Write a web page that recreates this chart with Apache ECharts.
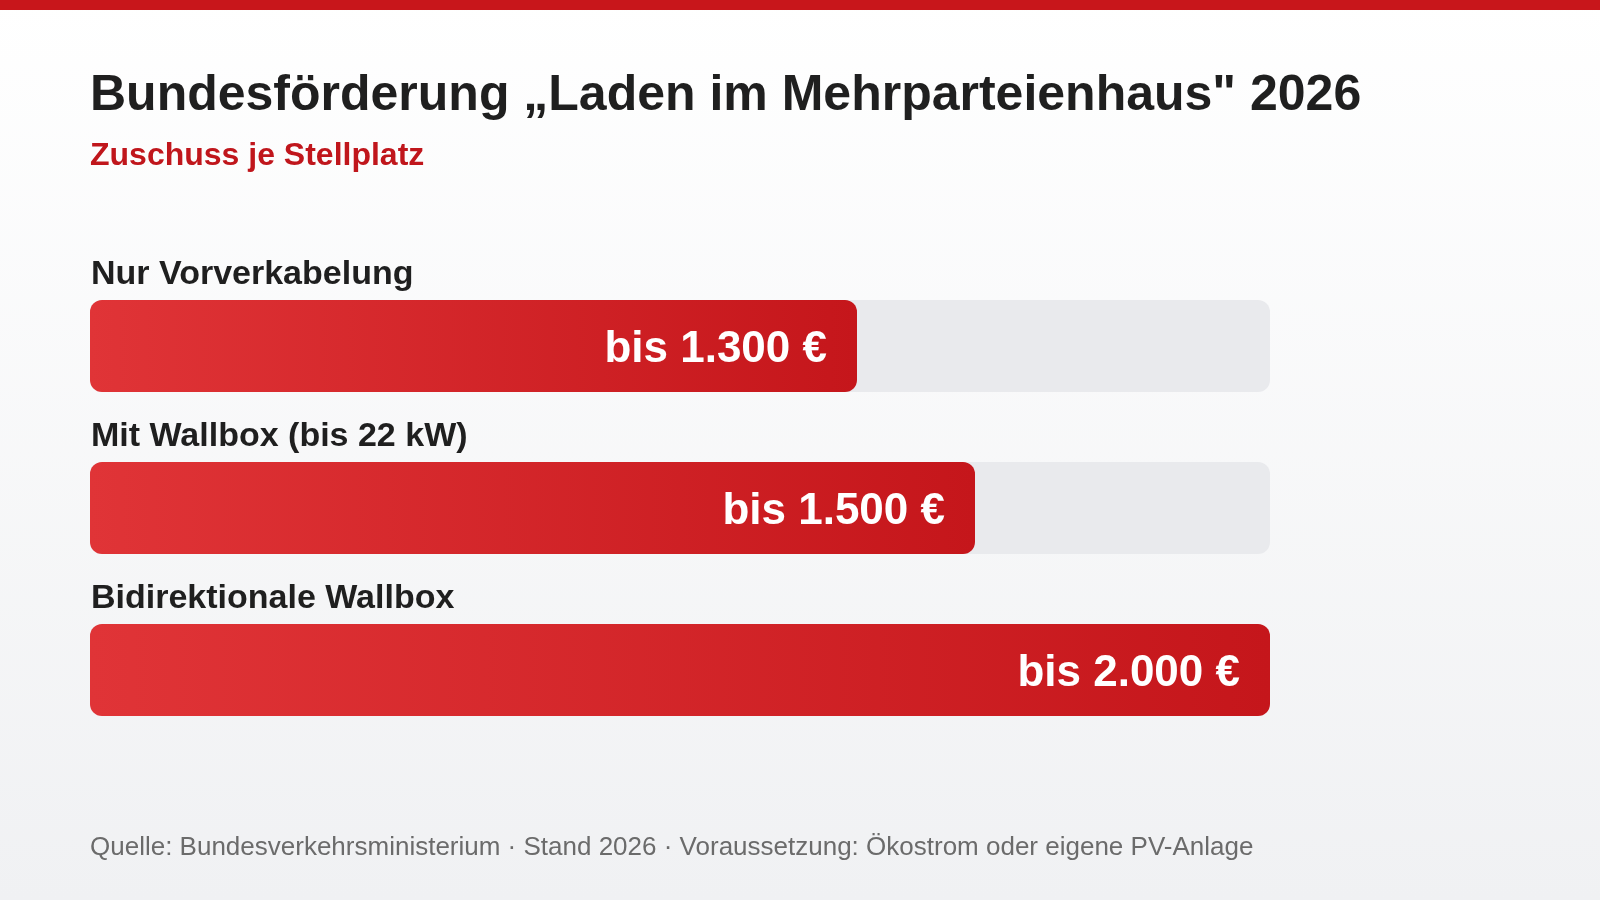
<!DOCTYPE html>
<html>
<head>
<meta charset="utf-8">
<script src="https://cdn.jsdelivr.net/npm/echarts@6/dist/echarts.min.js"></script>
<style>
html,body{margin:0;padding:0;width:1600px;height:900px;overflow:hidden;}
#chart{width:1600px;height:900px;}
</style>
</head>
<body>
<div id="chart"></div>
<script>
const titleText = 'Bundesförderung „Laden im Mehrparteienhaus" 2026';
const subtitleText = 'Zuschuss je Stellplatz';
const footerText = 'Quelle: Bundesverkehrsministerium · Stand 2026 · Voraussetzung: Ökostrom oder eigene PV-Anlage';
const categories = ['Nur Vorverkabelung', 'Mit Wallbox (bis 22 kW)', 'Bidirektionale Wallbox'];
const values = [1300, 1500, 2000];
const axisMax = 2000;

const FONT = '"Liberation Sans", Arial, Helvetica, sans-serif';
const fmt = v => 'bis ' + String(v).replace(/\B(?=(\d{3})+(?!\d))/g, '.') + ' €';

const chart = echarts.init(document.getElementById('chart'), null, {renderer: 'canvas'});
chart.setOption({
  animation: false,
  backgroundColor: {
    type: 'linear', x: 0, y: 0, x2: 0, y2: 1,
    colorStops: [{offset: 0, color: '#ffffff'}, {offset: 1, color: '#f0f1f3'}]
  },
  graphic: [{
    type: 'rect', left: 0, top: 0, shape: {width: 1600, height: 10},
    style: {fill: '#c8161b'}
  }],
  title: [{
    text: titleText, left: 90, top: 71, padding: 0,
    textStyle: {fontFamily: FONT, fontSize: 50, fontWeight: 'bold', color: '#1f1f1f', lineHeight: 50}
  }, {
    text: subtitleText, left: 90, top: 140, padding: 0,
    textStyle: {fontFamily: FONT, fontSize: 32, fontWeight: 'bold', color: '#c0161c', lineHeight: 32}
  }, {
    text: footerText, left: 90, top: 835, padding: 0,
    textStyle: {fontFamily: FONT, fontSize: 26, fontWeight: 'normal', color: '#6b6b6b', lineHeight: 26}
  }],
  grid: {left: 90, right: 330, top: 265, height: 486, containLabel: false},
  xAxis: {type: 'value', min: 0, max: axisMax, show: false},
  yAxis: {
    type: 'category', data: categories, inverse: true,
    axisLine: {show: false}, axisTick: {show: false}, splitLine: {show: false},
    axisLabel: {
      inside: true, margin: 0, align: 'left', verticalAlign: 'bottom',
      padding: [0, 0, 54, 1],
      fontFamily: FONT, fontSize: 34, fontWeight: 'bold', color: '#1f1f1f', lineHeight: 34
    }
  },
  series: [{
    type: 'bar', data: values, barWidth: 92,
    showBackground: true,
    backgroundStyle: {color: '#e9eaed', borderRadius: 12},
    itemStyle: {
      borderRadius: 12,
      color: {type: 'linear', x: 0, y: 0, x2: 1, y2: 0,
        colorStops: [{offset: 0, color: '#e03437'}, {offset: 1, color: '#c5161b'}]}
    },
    label: {
      show: true, position: 'insideRight', distance: 30, offset: [0, 4],
      formatter: p => fmt(p.value),
      fontFamily: FONT, fontSize: 44, fontWeight: 'bold', color: '#ffffff'
    }
  }]
});
</script>
</body>
</html>
